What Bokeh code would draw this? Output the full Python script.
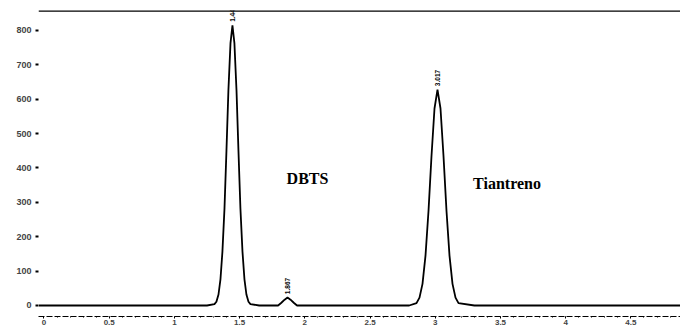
from bokeh.plotting import figure
from bokeh.models import ColumnDataSource, Range1d, SingleIntervalTicker, Label
from bokeh.embed import file_html
from bokeh.resources import INLINE
from bokeh.core.properties import value

# Detector trace (time in min, signal in mV), sampled along the baseline and across each peak
trace_time = [-0.04, 1.00, 1.250,
              1.307, 1.322, 1.338, 1.353, 1.368, 1.384, 1.399, 1.414, 1.430, 1.445,
              1.460, 1.476, 1.491, 1.506, 1.522, 1.537, 1.552, 1.568, 1.583,
              1.650, 1.795, 1.820, 1.845, 1.867, 1.890, 1.915, 1.940, 2.200, 2.800,
              2.856, 2.879, 2.902, 2.925, 2.948, 2.971, 2.994, 3.017,
              3.040, 3.063, 3.086, 3.109, 3.132, 3.155, 3.178,
              3.300, 4.00, 4.90]
trace_signal = [0, 0, 0,
                4, 11, 32, 76, 156, 283, 450, 626, 763, 815,
                763, 626, 450, 283, 156, 76, 32, 11, 4,
                0, 0, 8, 17, 23, 17, 8, 0, 0, 0,
                7, 23, 63, 145, 275, 435, 573, 628,
                573, 435, 275, 145, 63, 23, 7,
                0, 0, 0]

# Peak table: retention time and apex height
peak_rt = [1.445, 1.867, 3.017]
peak_height = [815, 23, 628]
peak_labels = ["1.445", "1.867", "3.017"]

# Compound names
compounds = ["DBTS", "Tiantreno"]
compound_t = [1.86, 3.29]
compound_y = [370, 355]

y_ticks = [0, 100, 200, 300, 400, 500, 600, 700, 800]

p = figure(width=680, height=334, output_backend="svg", toolbar_location=None,
           x_range=Range1d(-0.042, 4.88), y_range=Range1d(-32, 858),
           min_border_left=38, min_border_right=0, min_border_top=10, min_border_bottom=18)

p.background_fill_color = "white"
p.border_fill_color = "white"
p.outline_line_color = None
p.xgrid.visible = False
p.ygrid.visible = False

# trace
src = ColumnDataSource(dict(t=trace_time, s=trace_signal))
p.line("t", "s", source=src, line_color="black", line_width=1.8)

# top border line
p.line([-0.042, 4.88], [858, 858], line_color="black", line_width=2.5)

# retention time labels over the peaks
lab = ColumnDataSource(dict(t=peak_rt, h=[v + 10 for v in peak_height], txt=peak_labels))
p.text("t", "h", text="txt", source=lab, angle=1.5708, text_align="left",
       text_baseline="middle", text_font_size="6.5px", text_font_style="bold",
       text_font=value("Liberation Sans"), text_color="black")

# compound names
for name, t, y in zip(compounds, compound_t, compound_y):
    p.add_layout(Label(x=t, y=y, text=name, text_font="Liberation Serif",
                       text_font_style="bold", text_font_size="16px", text_color="black",
                       text_align="left", text_baseline="middle"))

# y axis
p.yaxis.ticker = y_ticks
p.yaxis.axis_line_color = None
p.yaxis.major_tick_line_color = "black"
p.yaxis.major_tick_line_width = 2
p.yaxis.major_tick_out = 3
p.yaxis.major_tick_in = 0
p.yaxis.major_label_text_font = "Liberation Sans"
p.yaxis.major_label_text_font_style = "bold"
p.yaxis.major_label_text_font_size = "9px"
p.yaxis.major_label_standoff = 4

# x axis
p.xaxis.ticker = SingleIntervalTicker(interval=0.5, num_minor_ticks=5)
p.xaxis.axis_line_color = "black"
p.xaxis.axis_line_width = 1
p.xaxis.axis_line_dash = "6 2"
p.xaxis.major_tick_line_color = "black"
p.xaxis.major_tick_out = 2
p.xaxis.major_tick_in = 0
p.xaxis.minor_tick_line_color = "black"
p.xaxis.minor_tick_out = 1
p.xaxis.minor_tick_in = 0
p.xaxis.major_label_text_font = "Liberation Sans"
p.xaxis.major_label_text_font_style = "bold"
p.xaxis.major_label_text_font_size = "8px"
p.xaxis.major_label_standoff = 1

open("out.html", "w").write(file_html(p, INLINE))
